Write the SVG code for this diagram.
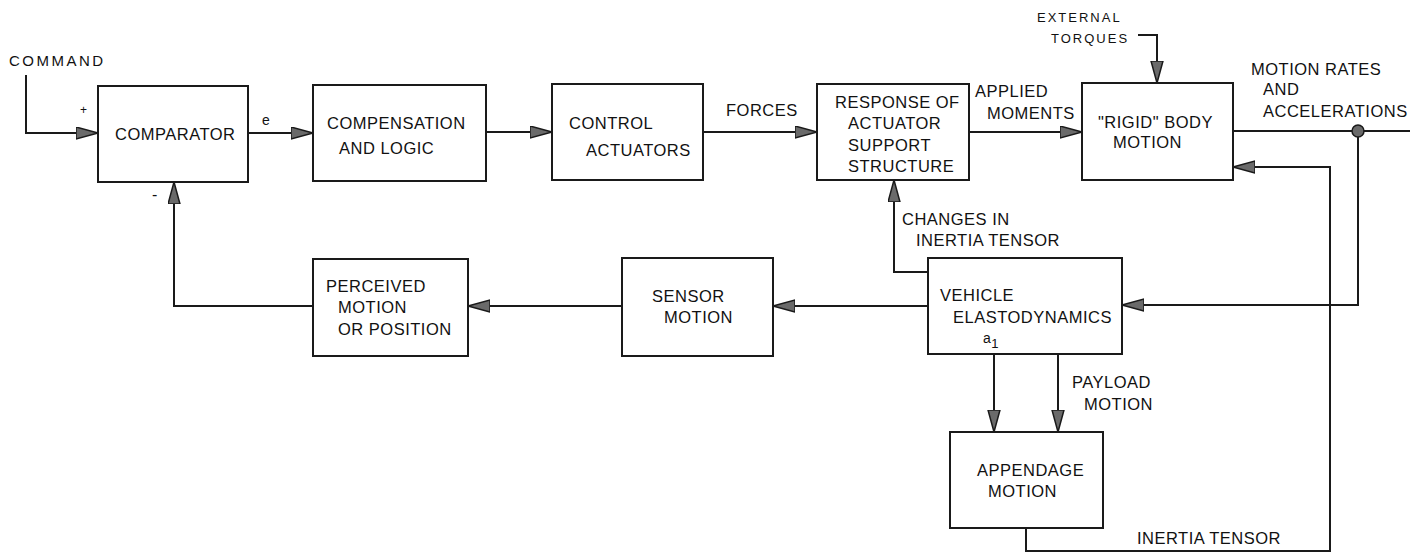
<svg xmlns="http://www.w3.org/2000/svg" width="1422" height="553" viewBox="0 0 1422 553">
<style>
  .box { fill: #fff; stroke: #1a1a1a; stroke-width: 2; }
  .t { font-family: "Liberation Sans", Arial, sans-serif; font-size: 16.5px; letter-spacing: 0.5px; fill: #111; }
  .s { font-family: "Liberation Sans", Arial, sans-serif; font-size: 13px; letter-spacing: 2px; fill: #111; }
  .c { font-family: "Liberation Sans", Arial, sans-serif; font-size: 15px; letter-spacing: 2.5px; fill: #111; }
  .ln { fill: none; stroke: #1a1a1a; stroke-width: 2; }
  .ar { marker-end: url(#ah); }
</style>
<defs>
  <marker id="ah" markerUnits="userSpaceOnUse" markerWidth="24" markerHeight="14" refX="22" refY="6.5" orient="auto">
    <path d="M0,0.5 L22,6.5 L0,12.5 Z" fill="#6a6a6a" stroke="#1a1a1a" stroke-width="1.5"/>
  </marker>
</defs>
<rect width="1422" height="553" fill="#fff"/>

<g id="connectors">
  <polyline class="ln ar" points="26,75 26,133 98,133"/>
  <line class="ln ar" x1="248" y1="133" x2="313" y2="133"/>
  <line class="ln ar" x1="486" y1="132" x2="552" y2="132"/>
  <line class="ln ar" x1="703" y1="132" x2="817" y2="132"/>
  <line class="ln ar" x1="969" y1="132" x2="1082" y2="132"/>
  <polyline class="ln ar" points="1138,35 1157,35 1157,83"/>
  <line class="ln" x1="1233" y1="131" x2="1410" y2="131"/>
  <circle cx="1358" cy="131" r="6" fill="#6a6a6a" stroke="#1a1a1a" stroke-width="1.5"/>
  <polyline class="ln ar" points="1358,137 1358,305 1122,305"/>
  <line class="ln ar" x1="928" y1="306" x2="773" y2="306"/>
  <line class="ln ar" x1="622" y1="306" x2="468" y2="306"/>
  <polyline class="ln ar" points="313,306 174,306 174,182"/>
  <polyline class="ln ar" points="928,272 894,272 894,180"/>
  <line class="ln ar" x1="994" y1="354" x2="994" y2="432"/>
  <line class="ln ar" x1="1058" y1="354" x2="1058" y2="432"/>
  <polyline class="ln ar" points="1026,528 1026,551 1330,551 1330,167 1233,167"/>
</g>

<g id="labels">
  <text class="c" x="9" y="66">COMMAND</text>
  <text class="t" x="80" y="114" style="font-size:12px">+</text>
  <text class="t" x="152" y="200" style="font-size:16px">-</text>
  <text class="t" x="262" y="125" style="font-size:14px">e</text>
  <text class="t" x="726" y="116">FORCES</text>
  <text class="t" x="975" y="97">APPLIED</text>
  <text class="t" x="987" y="119">MOMENTS</text>
  <text class="s" x="1037" y="22">EXTERNAL</text>
  <text class="s" x="1051" y="43">TORQUES</text>
  <text class="t" x="1251" y="75">MOTION RATES</text>
  <text class="t" x="1263" y="95">AND</text>
  <text class="t" x="1263" y="117">ACCELERATIONS</text>
  <text class="t" x="902" y="225">CHANGES IN</text>
  <text class="t" x="916" y="246">INERTIA TENSOR</text>
  <text class="t" x="1072" y="388">PAYLOAD</text>
  <text class="t" x="1084" y="410">MOTION</text>
  <text class="t" x="1137" y="544">INERTIA TENSOR</text>
</g>

<g id="comparator">
  <rect class="box" x="98" y="86" width="150" height="96"/>
  <text class="t" x="115" y="140">COMPARATOR</text>
</g>
<g id="compensation">
  <rect class="box" x="313" y="85" width="173" height="96"/>
  <text class="t" x="327" y="129">COMPENSATION</text>
  <text class="t" x="339" y="154">AND LOGIC</text>
</g>
<g id="control-actuators">
  <rect class="box" x="552" y="84" width="151" height="96"/>
  <text class="t" x="569" y="129">CONTROL</text>
  <text class="t" x="586" y="156">ACTUATORS</text>
</g>
<g id="response">
  <rect class="box" x="817" y="84" width="152" height="96"/>
  <text class="t" x="835" y="108">RESPONSE OF</text>
  <text class="t" x="848" y="129">ACTUATOR</text>
  <text class="t" x="848" y="151">SUPPORT</text>
  <text class="t" x="848" y="172">STRUCTURE</text>
</g>
<g id="rigid-body">
  <rect class="box" x="1082" y="83" width="151" height="97"/>
  <text class="t" x="1098" y="128">"RIGID" BODY</text>
  <text class="t" x="1113" y="148">MOTION</text>
</g>
<g id="perceived">
  <rect class="box" x="313" y="259" width="155" height="97"/>
  <text class="t" x="326" y="292">PERCEIVED</text>
  <text class="t" x="338" y="313">MOTION</text>
  <text class="t" x="338" y="335">OR POSITION</text>
</g>
<g id="sensor">
  <rect class="box" x="622" y="258" width="151" height="98"/>
  <text class="t" x="652" y="302">SENSOR</text>
  <text class="t" x="664" y="323">MOTION</text>
</g>
<g id="vehicle">
  <rect class="box" x="928" y="258" width="194" height="96"/>
  <text class="t" x="940" y="301">VEHICLE</text>
  <text class="t" x="953" y="323">ELASTODYNAMICS</text>
  <text class="t" x="983" y="343" style="font-size:14px">a<tspan dy="5" style="font-size:13px">1</tspan></text>
</g>
<g id="appendage">
  <rect class="box" x="950" y="432" width="153" height="96"/>
  <text class="t" x="977" y="476">APPENDAGE</text>
  <text class="t" x="988" y="497">MOTION</text>
</g>
</svg>
